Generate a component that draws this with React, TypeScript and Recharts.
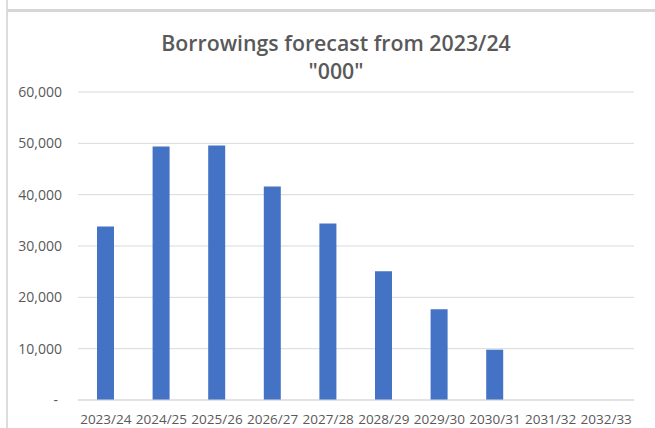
import { Bar, BarChart, CartesianGrid, XAxis, YAxis } from "recharts";

const years = [
  "2023/24",
  "2024/25",
  "2025/26",
  "2026/27",
  "2027/28",
  "2028/29",
  "2029/30",
  "2030/31",
  "2031/32",
  "2032/33",
];
const borrowings = [33800, 49400, 49600, 41600, 34400, 25100, 17700, 9800, 0, 0];
const yTicks = [0, 10000, 20000, 30000, 40000, 50000, 60000];

const titleLines = ["Borrowings forecast from 2023/24", '"000"'];

const font = "'Open Sans', 'Liberation Sans', sans-serif";
const labelColor = "#595959";

const data = years.map((year, i) => ({ year, value: borrowings[i] }));

function YTick({ x, y, payload }: any) {
  const v = payload.value as number;
  const label = v === 0 ? "-" : v.toLocaleString("en-US");
  return (
    <text
      x={x}
      y={y}
      dx={v === 0 ? -4 : 0}
      dy={5}
      textAnchor="end"
      fill={labelColor}
      fontSize={14}
      fontFamily={font}
    >
      {label}
    </text>
  );
}

export default function App() {
  return (
    <div
      style={{
        position: "absolute",
        left: 0,
        top: 0,
        width: 655,
        height: 428,
        background: "#ffffff",
        overflow: "hidden",
      }}
    >
      {/* window edges from the screenshot */}
      <div style={{ position: "absolute", left: 6, top: 0, width: 2, height: 428, background: "#dcdcdc" }} />
      <div style={{ position: "absolute", left: 7, top: 9, width: 648, height: 3, background: "#d6d6d6" }} />

      <div
        style={{
          position: "absolute",
          left: 136,
          top: 29,
          width: 400,
          textAlign: "center",
          fontFamily: font,
          fontWeight: 600,
          fontSize: 21.3,
          lineHeight: "28px",
          color: labelColor,
        }}
      >
        {titleLines.map((t) => (
          <div key={t}>{t}</div>
        ))}
      </div>

      <div style={{ position: "absolute", left: 0, top: 0 }}>
        <BarChart
          width={655}
          height={428}
          data={data}
          margin={{ top: 92, right: 21, bottom: 4, left: 0 }}
        >
          <CartesianGrid vertical={false} stroke="#d9d9d9" />
          <XAxis
            dataKey="year"
            axisLine={{ stroke: "#d9d9d9" }}
            tickLine={false}
            tickMargin={8}
            height={24}
            interval={0}
            tick={{ fill: labelColor, fontSize: 13.5, fontFamily: font }}
          />
          <YAxis
            domain={[0, 60000]}
            ticks={yTicks}
            width={78}
            axisLine={false}
            tickLine={false}
            tickSize={0}
            tickMargin={16}
            tick={<YTick />}
          />
          <Bar dataKey="value" fill="#4472C4" barSize={17} isAnimationActive={false} />
        </BarChart>
      </div>
    </div>
  );
}
